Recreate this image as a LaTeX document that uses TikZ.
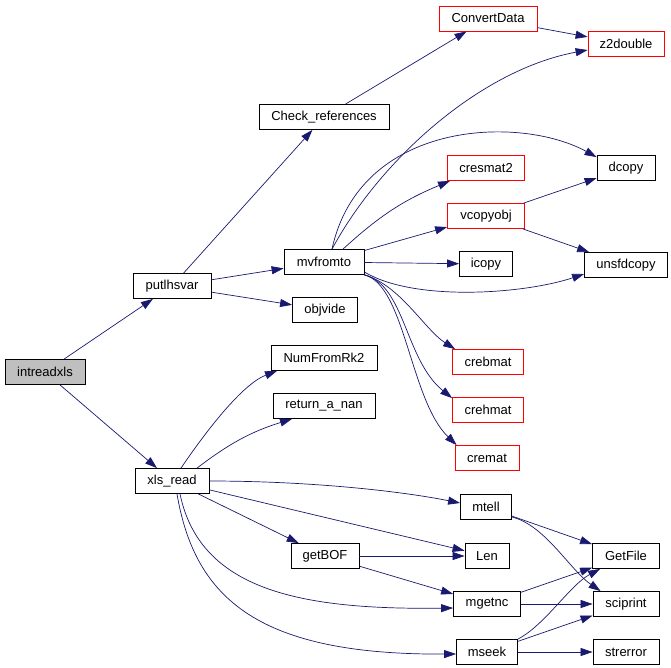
\documentclass[tikz,border=0pt]{standalone}
\usepackage{fontspec}
\setmainfont{Liberation Sans}
\usepackage{xcolor}
\usetikzlibrary{arrows.meta}
\definecolor{edgeblue}{HTML}{191970}
\definecolor{rootgray}{HTML}{BFBFBF}

\begin{document}
\begin{tikzpicture}[
		x=1pt, y=-1pt,
		font=\fontsize{13}{15}\selectfont,
		fn/.style={draw=black, line width=0.8pt, minimum height=25pt, inner sep=0pt},
		undoc/.style={fn, draw=red},
		root/.style={fn, fill=rootgray},
		call/.style={-{Triangle[length=12pt,width=8pt]}, draw=edgeblue, line width=0.7pt}
		]
		
		% Frame
		\useasboundingbox (0,0) rectangle (671,667);
		
		% Caller
		\node[root, minimum width=80pt] (intreadxls) at (45,372) {intreadxls};
		
		% First level
		\node[fn, minimum width=78pt] (putlhsvar) at (172,286) {putlhsvar};
		\node[fn, minimum width=74pt] (xlsread) at (172,481) {xls\_read};
		
		% Second level
		\node[fn, minimum width=130pt] (checkref) at (324,117) {Check\_references};
		\node[fn, minimum width=80pt] (mvfromto) at (324,262) {mvfromto};
		\node[fn, minimum width=65pt] (objvide) at (325,310) {objvide};
		\node[fn, minimum width=106pt] (numfromrk) at (324,358) {NumFromRk2};
		\node[fn, minimum width=102pt] (retnan) at (324,406) {return\_a\_nan};
		\node[fn, minimum width=68pt] (getbof) at (325,556) {getBOF};
		
		% Third level
		\node[undoc, minimum width=98pt] (convert) at (488,18.5) {ConvertData};
		\node[undoc, minimum width=77pt] (cresmat) at (486,168) {cresmat2};
		\node[undoc, minimum width=77pt] (vcopyobj) at (486,216) {vcopyobj};
		\node[fn, minimum width=53pt] (icopy) at (486,264) {icopy};
		\node[undoc, minimum width=71pt] (crebmat) at (488,362) {crebmat};
		\node[undoc, minimum width=71pt] (crehmat) at (488,410) {crehmat};
		\node[undoc, minimum width=64pt] (cremat) at (487,458) {cremat};
		\node[fn, minimum width=51pt] (mtell) at (486,507) {mtell};
		\node[fn, minimum width=44pt] (len) at (487,556) {Len};
		\node[fn, minimum width=67pt] (mgetnc) at (487,604) {mgetnc};
		\node[fn, minimum width=61pt] (mseek) at (487,652) {mseek};
		
		% Fourth level
		\node[undoc, minimum width=76pt] (zdouble) at (626,44) {z2double};
		\node[fn, minimum width=58pt] (dcopy) at (626,168) {dcopy};
		\node[fn, minimum width=83pt] (unsfdcopy) at (626,265) {unsfdcopy};
		\node[fn, minimum width=67pt] (getfile) at (626,556) {GetFile};
		\node[fn, minimum width=66pt] (sciprint) at (626,604) {sciprint};
		\node[fn, minimum width=66pt] (strerror) at (626,652) {strerror};
		
		% Calls from intreadxls
		\draw[call] (intreadxls) -- (putlhsvar);
		\draw[call] (intreadxls) -- (xlsread);
		
		% Calls from putlhsvar
		\draw[call] (putlhsvar) -- (checkref);
		\draw[call] (putlhsvar) -- (mvfromto);
		\draw[call] (putlhsvar) -- (objvide);
		\draw[call] (checkref) -- (convert);
		\draw[call] (convert) -- (zdouble);
		
		% Calls from mvfromto
		\draw[call] ([xshift=8pt]mvfromto.north) .. controls (380,160) and (480,70) .. ([yshift=-6pt]zdouble.west);
		\draw[call] ([xshift=8pt]mvfromto.north) .. controls (360,120) and (520,115) .. ([yshift=-2pt]dcopy.north west);
		\draw[call] ([xshift=19pt]mvfromto.north) to[bend left=10] ([xshift=-36pt]cresmat.south);
		\draw[call] (mvfromto) -- (vcopyobj);
		\draw[call] (mvfromto) -- (icopy);
		\draw[call] ([yshift=-10pt]mvfromto.east) .. controls +(50,30) and +(-60,20) .. ([yshift=-9pt]unsfdcopy.west);
		\draw[call] (mvfromto.south east) .. controls (400,285) and (425,330) .. ([xshift=3pt]crebmat.north west);
		\draw[call] (mvfromto.south east) .. controls (405,285) and (405,360) .. ([yshift=-1pt]crehmat.north west);
		\draw[call] (mvfromto.south east) .. controls (405,285) and (410,400) .. ([xshift=2pt]cremat.north west);
		\draw[call] (vcopyobj) -- (dcopy);
		\draw[call] (vcopyobj) -- (unsfdcopy);
		
		% Calls from xls_read
		\draw[call] ([xshift=9pt]xlsread.north) .. controls (200,440) and (240,385) .. ([xshift=-47pt]numfromrk.south);
		\draw[call] ([xshift=25pt]xlsread.north) to[bend left=10] ([xshift=-32pt]retnan.south);
		\draw[call] (xlsread.east) .. controls +(100,0) and +(-60,-12) .. ([yshift=4pt]mtell.west);
		\draw[call] (xlsread) -- (len);
		\draw[call] (xlsread) -- (getbof);
		\draw[call] ([xshift=8pt]xlsread.south) .. controls (200,590) and (300,610) .. ([yshift=-4pt]mgetnc.west);
		\draw[call] ([xshift=5pt]xlsread.south) .. controls (195,600) and (260,655) .. ([yshift=-2pt]mseek.west);
		\draw[call] (getbof) -- (len);
		\draw[call] (getbof) -- (mgetnc);
		
		% Calls to the I/O helpers
		\draw[call] (mtell) -- (getfile);
		\draw[call] ([yshift=-10pt]mtell.east) .. controls (545,525) and (570,570) .. ([xshift=8pt]sciprint.north west);
		\draw[call] (mgetnc) -- (getfile);
		\draw[call] (mgetnc) -- (sciprint);
		\draw[call] (mseek.north east) .. controls (545,625) and (570,585) .. ([xshift=8pt]getfile.south west);
		\draw[call] (mseek) -- (sciprint);
		\draw[call] (mseek) -- (strerror);
		
	\end{tikzpicture}
\end{document}
